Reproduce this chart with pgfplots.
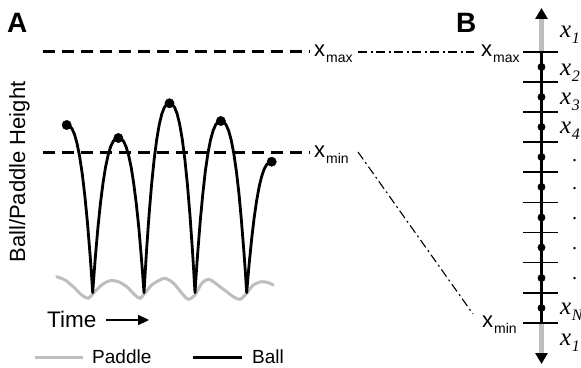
\documentclass[border=0pt]{standalone}
\usepackage{pgfplots}
\pgfplotsset{compat=1.18}
\usepackage{fontspec}
\setmainfont{Liberation Sans}
\newfontfamily\lserif{Liberation Serif}
\usetikzlibrary{arrows.meta}
\definecolor{paddlegray}{RGB}{190,190,190}
\newcommand{\sublbl}[2]{#1\kern1bp\raisebox{-6bp}{\fontsize{14bp}{16bp}\selectfont #2}}
\newcommand{\xlab}[1]{{\lserif\itshape x\kern0.5bp\raisebox{-6bp}{\fontsize{16bp}{18bp}\selectfont #1}}}
\begin{document}
\begin{tikzpicture}
\begin{axis}[
  scale only axis, width=581bp, height=368bp,
  xmin=0, xmax=581, ymin=0, ymax=368, y dir=reverse,
  hide axis, clip=false,
]
% ---------- Panel A ----------
% paddle
\addplot[paddlegray, line width=3bp, smooth, line cap=round] coordinates {
(56.7,276.7) (65,280) (73.3,286.7) (81.7,295) (88.3,298.3) (93.3,293.3)
(101.7,285) (110,280.7) (118.3,281.7) (126.7,286.7) (135,295) (140,298.3) (145,293.3)
(151.7,285) (160,280) (165,278.3) (171.7,281.7) (176.7,286.7) (183.3,295) (188.3,299.3) (195,295)
(201.7,283.3) (208.3,279.3) (213.3,281.7) (220,286.7) (226.7,291.7) (233.3,296.7) (240,299.3) (246.7,293.3)
(253.3,285) (261.7,281.7) (268.3,282.7) (273.3,285)};
% ball
\addplot[black, line width=2.8bp, line join=round, line cap=round] coordinates {
(66.7,125.0) (69.3,125.7) (71.9,128.5) (74.5,134.3) (77.1,143.6) (79.7,156.8) (82.3,174.2) (84.9,196.3) (87.5,223.2) (90.1,255.2) (91.4,273.2) (92.7,292.7)
(93.98,274.8) (95.27,258.1) (97.83,228.6) (100.4,203.7) (102.96,183.4) (105.5,167.3) (108.1,155.2) (110.65,146.6) (113.2,141.2) (115.8,138.6) (118.35,138) (120.9,138.6) (123.5,141.2) (126.05,146.6) (128.6,155.2) (131.2,167.3) (133.7,183.4) (136.3,203.7) (138.9,228.6) (141.4,258.1) (142.7,274.8) (144,292.7)
(145.3,270.7) (146.55,250.4) (149.1,214.2) (151.65,183.8) (154.2,158.9) (156.75,139.2) (159.3,124.3) (161.85,113.8) (164.4,107.3) (166.95,104.1) (169.5,103.3) (172.05,104.1) (174.6,107.3) (177.15,113.8) (179.7,124.3) (182.25,139.2) (184.8,158.9) (187.35,183.8) (189.9,214.2) (192.45,250.4) (193.7,270.7) (195,292.7)
(196.3,272.8) (197.6,254.3) (200.2,221.5) (202.8,194.0) (205.3,171.4) (207.9,153.5) (210.5,140.0) (213.1,130.6) (215.7,124.6) (218.3,121.7) (220.85,121) (223.4,121.7) (226.0,124.6) (228.6,130.6) (231.2,140.0) (233.8,153.5) (236.4,171.4) (239.0,194.0) (241.5,221.5) (244.1,254.3) (245.4,272.8) (246.7,292.7)
(247.95,277.5) (249.2,263.4) (251.7,238.4) (254.2,217.4) (256.7,200.2) (259.2,186.5) (261.7,176.2) (264.2,169.0) (266.7,164.5) (269.2,162.2) (271.7,161.7)};
\addplot[only marks, mark=*, mark size=4.7, black] coordinates {
(66.7,125) (118.35,138) (169.5,103.3) (220.85,121) (271.7,161.7)};
% x_max / x_min dashed lines
\addplot[black, line width=3bp, dash pattern=on 12bp off 7bp] coordinates {(43,52) (310,52)};
\addplot[black, line width=3bp, dash pattern=on 12bp off 7bp] coordinates {(43,152) (310,152)};
% connecting dash-dot lines
\addplot[black, line width=1.1bp, dash pattern=on 9bp off 3.5bp on 2bp off 3.5bp] coordinates {(358,52) (474,52)};
\addplot[black, line width=1.1bp, dash pattern=on 9bp off 3.5bp on 2bp off 3.5bp] coordinates {(358,152) (473,314)};
% legend lines
\addplot[paddlegray, line width=3bp] coordinates {(35,357) (83,357)};
\addplot[black, line width=3bp] coordinates {(193,357) (242,357)};
% time arrow
\addplot[black, line width=2.2bp, -{Triangle[length=11bp,width=10bp]}] coordinates {(106,320) (149,320)};

% ---------- Panel B ----------
\addplot[paddlegray, line width=5bp, -{Triangle[length=11bp,width=12bp,color=black]}] coordinates {(541.5,52) (541.5,8)};
\addplot[paddlegray, line width=5bp, -{Triangle[length=11bp,width=12bp,color=black]}] coordinates {(541.5,323) (541.5,364)};
\addplot[black, line width=2.2bp] coordinates {(541.5,52) (541.5,323)};
\addplot[black, line width=1.4bp, unbounded coords=jump] coordinates {
(523,52) (558,52) (540,nan)
(523,82) (558,82) (540,nan)
(523,112) (558,112) (540,nan)
(523,142) (558,142) (540,nan)
(523,172) (558,172) (540,nan)
(523,202.5) (558,202.5) (540,nan)
(523,232.5) (558,232.5) (540,nan)
(523,262.5) (558,262.5) (540,nan)
(523,293) (558,293) (540,nan)
(523,323) (558,323)};
\addplot[only marks, mark=*, mark size=3.7, black] coordinates {
(541.5,67) (541.5,97) (541.5,127) (541.5,157) (541.5,187) (541.5,217.5) (541.5,247.5) (541.5,278) (541.5,308)};

% ---------- Text ----------
\node[anchor=base west, inner sep=0, font=\fontsize{28bp}{32bp}\selectfont\bfseries] at (axis cs:7,32) {A};
\node[anchor=base west, inner sep=0, font=\fontsize{28bp}{32bp}\selectfont\bfseries] at (axis cs:456,32) {B};
\node[rotate=90, anchor=base, inner sep=0, font=\fontsize{22bp}{26bp}\selectfont] at (axis cs:25,172) {Ball/Paddle Height};
\node[anchor=base west, inner sep=0, font=\fontsize{22.5bp}{26bp}\selectfont] at (axis cs:47,327) {Time};
\node[anchor=base west, inner sep=0, font=\fontsize{19bp}{23bp}\selectfont] at (axis cs:92,363) {Paddle};
\node[anchor=base west, inner sep=0, font=\fontsize{19bp}{23bp}\selectfont] at (axis cs:252,363) {Ball};
\node[anchor=base west, inner sep=0, font=\fontsize{22bp}{26bp}\selectfont] at (axis cs:314,56) {\sublbl{x}{max}};
\node[anchor=base west, inner sep=0, font=\fontsize{22bp}{26bp}\selectfont] at (axis cs:314,157.5) {\sublbl{x}{min}};
\node[anchor=base west, inner sep=0, font=\fontsize{22bp}{26bp}\selectfont] at (axis cs:481,56) {\sublbl{x}{max}};
\node[anchor=base west, inner sep=0, font=\fontsize{22bp}{26bp}\selectfont] at (axis cs:482,327) {\sublbl{x}{min}};
% right-hand labels
\node[anchor=base west, inner sep=0, font=\fontsize{25bp}{29bp}\selectfont] at (axis cs:560,37.5) {\xlab{1}};
\node[anchor=base west, inner sep=0, font=\fontsize{25bp}{29bp}\selectfont] at (axis cs:560,75.5) {\xlab{2}};
\node[anchor=base west, inner sep=0, font=\fontsize{25bp}{29bp}\selectfont] at (axis cs:560,104.5) {\xlab{3}};
\node[anchor=base west, inner sep=0, font=\fontsize{25bp}{29bp}\selectfont] at (axis cs:560,133.5) {\xlab{4}};
\node[anchor=base west, inner sep=0, font=\fontsize{25bp}{29bp}\selectfont] at (axis cs:560,314.5) {\xlab{N}};
\node[anchor=base west, inner sep=0, font=\fontsize{25bp}{29bp}\selectfont] at (axis cs:560,345.5) {\xlab{1}};
\node[anchor=base west, inner sep=0, font=\fontsize{20bp}{24bp}\selectfont\lserif] at (axis cs:572,161) {.};
\node[anchor=base west, inner sep=0, font=\fontsize{20bp}{24bp}\selectfont\lserif] at (axis cs:572,189) {.};
\node[anchor=base west, inner sep=0, font=\fontsize{20bp}{24bp}\selectfont\lserif] at (axis cs:572,219) {.};
\node[anchor=base west, inner sep=0, font=\fontsize{20bp}{24bp}\selectfont\lserif] at (axis cs:572,249) {.};
\node[anchor=base west, inner sep=0, font=\fontsize{20bp}{24bp}\selectfont\lserif] at (axis cs:572,279) {.};
\end{axis}
\pgfresetboundingbox
\useasboundingbox (current axis.south west) rectangle (current axis.north east);
\end{tikzpicture}
\end{document}
